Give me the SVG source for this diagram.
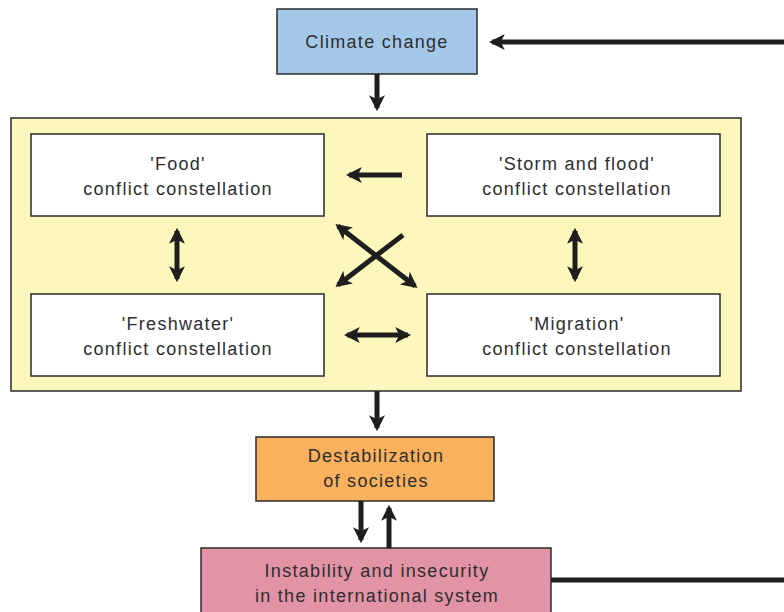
<svg xmlns="http://www.w3.org/2000/svg" width="784" height="612" viewBox="0 0 784 612">
<style>
.box{stroke:#2a2a2a;stroke-width:1.5}
.t{font-family:"Liberation Sans",Arial,sans-serif;font-size:18px;letter-spacing:1.3px;fill:#2e2e2e;text-anchor:middle}
.c{stroke:#1e1e1e;stroke-width:5;fill:none}
</style>
<defs>
<marker id="ah" viewBox="0 0 10 10" refX="8" refY="5" markerWidth="3.2" markerHeight="3.2" orient="auto-start-reverse" markerUnits="strokeWidth">
<path d="M0,0 L10,5 L0,10 L2.5,5 Z" fill="#1e1e1e"/>
</marker>
</defs>
<rect width="784" height="612" fill="#fff"/>
<g id="frame"><rect class="box" x="11" y="118" width="730" height="273" fill="#fbf7bd"/></g>
<g id="climate"><rect class="box" x="277" y="9" width="200" height="65" fill="#a4c8e8"/><text class="t" x="377" y="48">Climate change</text></g>
<g id="food"><rect class="box" x="31" y="134" width="293" height="82" fill="#fff"/><text class="t" x="178" y="170">'Food'</text><text class="t" x="178" y="195">conflict constellation</text></g>
<g id="storm"><rect class="box" x="427" y="134" width="293" height="82" fill="#fff"/><text class="t" x="577" y="170">'Storm and flood'</text><text class="t" x="577" y="195">conflict constellation</text></g>
<g id="freshwater"><rect class="box" x="31" y="294" width="293" height="82" fill="#fff"/><text class="t" x="178" y="330">'Freshwater'</text><text class="t" x="178" y="355">conflict constellation</text></g>
<g id="migration"><rect class="box" x="427" y="294" width="293" height="82" fill="#fff"/><text class="t" x="577" y="330">'Migration'</text><text class="t" x="577" y="355">conflict constellation</text></g>
<g id="destab"><rect class="box" x="256" y="437" width="238" height="64" fill="#f9b15e"/><text class="t" x="376" y="462">Destabilization</text><text class="t" x="376" y="487">of societies</text></g>
<g id="instab"><rect class="box" x="201" y="548" width="350" height="70" fill="#e393a6"/><text class="t" x="377" y="577">Instability and insecurity</text><text class="t" x="377" y="602">in the international system</text></g>
<g id="connectors">
<line class="c" x1="784" y1="42" x2="492" y2="42" marker-end="url(#ah)"/>
<line class="c" x1="377" y1="74" x2="377" y2="108" marker-end="url(#ah)"/>
<line class="c" x1="402" y1="175" x2="349" y2="175" marker-end="url(#ah)"/>
<line class="c" x1="338" y1="226" x2="415" y2="286" marker-start="url(#ah)" marker-end="url(#ah)"/>
<line class="c" x1="403" y1="235" x2="338" y2="285" marker-end="url(#ah)"/>
<line class="c" x1="347" y1="335" x2="408" y2="335" marker-start="url(#ah)" marker-end="url(#ah)"/>
<line class="c" x1="177" y1="231" x2="177" y2="279" marker-start="url(#ah)" marker-end="url(#ah)"/>
<line class="c" x1="575" y1="231" x2="575" y2="279" marker-start="url(#ah)" marker-end="url(#ah)"/>
<line class="c" x1="377" y1="391" x2="377" y2="428" marker-end="url(#ah)"/>
<line class="c" x1="361" y1="501" x2="361" y2="540" marker-end="url(#ah)"/>
<line class="c" x1="389" y1="548" x2="389" y2="508" marker-end="url(#ah)"/>
<line class="c" x1="551" y1="580" x2="784" y2="580"/>
</g>
</svg>
